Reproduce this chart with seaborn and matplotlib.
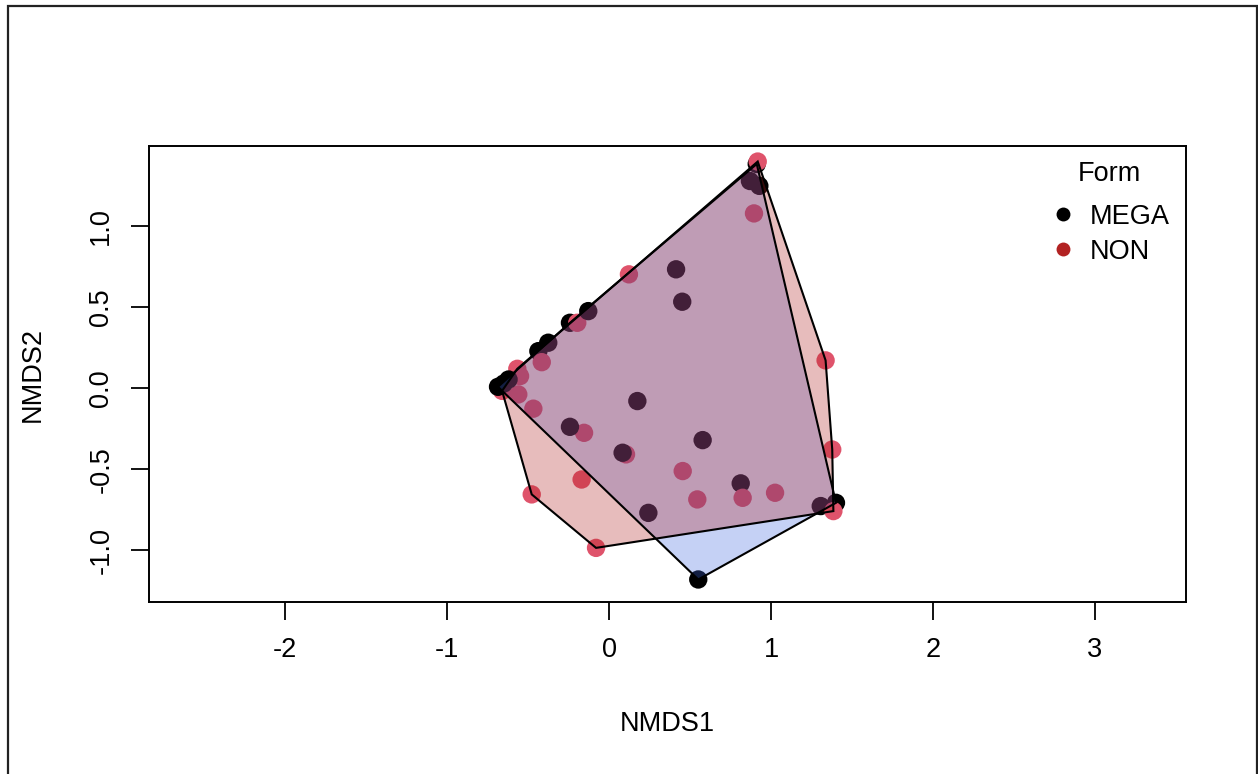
import matplotlib
matplotlib.use("Agg")
import matplotlib.pyplot as plt
from matplotlib.patches import Polygon, Rectangle
from matplotlib.lines import Line2D
import seaborn as sns
import pandas as pd
import numpy as np

# ---- data ----
nmds1 = [-0.660, -0.566, -0.549, -0.560, -0.467,
         -0.685, -0.650, -0.620, -0.436, -0.375,
         -0.415, -0.241, -0.196, -0.128, 0.123,
         0.414, 0.452, 0.870, 0.928, 0.912,
         0.918, 0.895, 1.337, 1.378, 0.175,
         -0.154, -0.241, 0.105, 0.084, 0.578,
         0.455, -0.169, -0.477, 0.813, 0.825,
         0.545, 1.025, 0.243, -0.080, 0.551,
         1.307, 1.401, 1.385]
nmds2 = [-0.015, 0.121, 0.076, -0.037, -0.125,
         0.010, 0.030, 0.055, 0.230, 0.282,
         0.162, 0.405, 0.405, 0.477, 0.704,
         0.735, 0.535, 1.280, 1.250, 1.385,
         1.400, 1.080, 0.173, -0.377, -0.078,
         -0.274, -0.237, -0.407, -0.397, -0.319,
         -0.510, -0.562, -0.654, -0.586, -0.675,
         -0.685, -0.644, -0.768, -0.984, -1.179,
         -0.726, -0.706, -0.757]
form = ["NON", "NON", "NON", "NON", "NON",
        "MEGA", "MEGA", "MEGA", "MEGA", "MEGA",
        "NON", "MEGA", "NON", "MEGA", "NON",
        "MEGA", "MEGA", "MEGA", "MEGA", "MEGA",
        "NON", "NON", "NON", "NON", "MEGA",
        "NON", "MEGA", "NON", "MEGA", "MEGA",
        "NON", "NON", "NON", "MEGA", "NON",
        "NON", "NON", "MEGA", "NON", "MEGA",
        "MEGA", "MEGA", "NON"]

groups = ["MEGA", "NON"]
point_colors = {"MEGA": "black", "NON": "#DF536B"}
hull_colors = {"MEGA": "royalblue", "NON": "firebrick"}
legend_colors = {"MEGA": "black", "NON": "firebrick"}
x_ticks = [-2, -1, 0, 1, 2, 3]
y_ticks = [-1.0, -0.5, 0.0, 0.5, 1.0]

df = pd.DataFrame({"NMDS1": nmds1, "NMDS2": nmds2, "Form": form})


def convex_hull(points):
    pts = sorted(map(tuple, points))

    def cross(o, a, b):
        return (a[0] - o[0]) * (b[1] - o[1]) - (a[1] - o[1]) * (b[0] - o[0])

    lower, upper = [], []
    for p in pts:
        while len(lower) >= 2 and cross(lower[-2], lower[-1], p) <= 0:
            lower.pop()
        lower.append(p)
    for p in reversed(pts):
        while len(upper) >= 2 and cross(upper[-2], upper[-1], p) <= 0:
            upper.pop()
        upper.append(p)
    return lower[:-1] + upper[:-1]


sns.set_theme(style="white")
plt.rcParams["font.family"] = ["Liberation Sans", "DejaVu Sans"]
plt.rcParams["text.color"] = "black"
plt.rcParams["axes.labelcolor"] = "black"
plt.rcParams["xtick.color"] = "black"
plt.rcParams["ytick.color"] = "black"

W, H = 1258, 774
fig = plt.figure(figsize=(W / 100, H / 100), dpi=100)
ax = fig.add_axes([149 / W, 1 - 602 / H, (1186 - 149) / W, (602 - 146) / H])

sns.scatterplot(data=df, x="NMDS1", y="NMDS2", hue="Form", palette=point_colors,
                s=175, linewidth=0, legend=False, ax=ax, zorder=2)

for g in groups:
    sub = df[df["Form"] == g]
    hv = convex_hull(sub[["NMDS1", "NMDS2"]].values)
    poly = Polygon(hv, closed=True, facecolor=hull_colors[g], alpha=0.3,
                   edgecolor="none", zorder=3)
    ax.add_patch(poly)
    edge = Polygon(hv, closed=True, facecolor="none", edgecolor="black",
                   linewidth=1.5, zorder=4)
    ax.add_patch(edge)

ax.set_xlim(-2.8395, 3.5617)
ax.set_ylim(-1.318, 1.496)
ax.set_xticks(x_ticks)
ax.set_xticklabels([str(t) for t in x_ticks])
ax.set_yticks(y_ticks)
ax.set_yticklabels([f"{t:.1f}" for t in y_ticks], rotation=90, va="center")

for sp in ax.spines.values():
    sp.set_color("black")
    sp.set_linewidth(1.4)

ax.tick_params(axis="both", direction="out", length=13, width=1.3,
               color="black", labelsize=19.5, labelcolor="black",
               bottom=True, left=True)
ax.tick_params(axis="x", pad=12)
ax.tick_params(axis="y", pad=12)

ax.set_xlabel("NMDS1", fontsize=19.5, color="black", va="center")
ax.set_ylabel("NMDS2", fontsize=19.5, color="black", va="center")
ax.xaxis.set_label_coords(0.5, (602 - 724) / 456)
ax.yaxis.set_label_coords((33 - 149) / 1037, 0.5)

handles = [Line2D([], [], linestyle="none", marker="o", markersize=10,
                  markerfacecolor=legend_colors[g], markeredgecolor="none",
                  label=g) for g in groups]
leg = ax.legend(handles=handles, title="Form", loc="upper left",
                bbox_to_anchor=((1049 - 149) / 1037, (602 - 161) / 456),
                frameon=False, fontsize=19.5, title_fontsize=19.5,
                handlelength=1.0, handletextpad=0.5, borderpad=0,
                borderaxespad=0, labelspacing=0.33)
for t in leg.get_texts():
    t.set_color("black")
leg.get_title().set_color("black")
try:
    leg._legend_box.sep = 12.2
except Exception:
    pass

fig.patches.append(Rectangle((8 / W, -0.02), (1257 - 8) / W, 1.02 - 6 / H,
                             transform=fig.transFigure, fill=False,
                             edgecolor="#222222", linewidth=1.6))

fig.savefig("out.png", dpi=100, facecolor="white")
